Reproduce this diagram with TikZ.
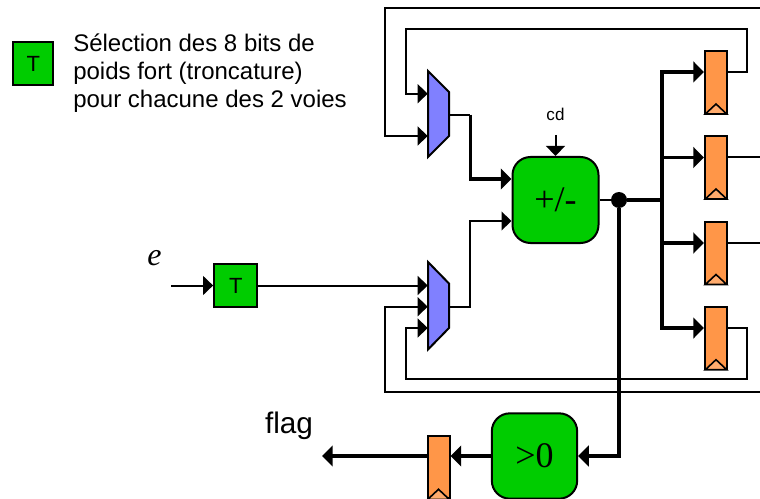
\documentclass[tikz,border=0pt]{standalone}
\usepackage{fontspec}
\setmainfont{Liberation Sans}
\newfontfamily\timesf{Liberation Serif}
\usetikzlibrary{arrows.meta}
\definecolor{gr}{HTML}{00CC00}
\definecolor{mx}{HTML}{8080FF}
\definecolor{og}{HTML}{FF9648}
\tikzset{
  wire/.style={line width=1.5pt,line join=miter,-{Triangle[length=7.5pt,width=14pt]}},
  fatwire/.style={line width=2.6pt,line join=miter,-{Triangle[length=8pt,width=15.5pt]}},
  plain/.style={line width=1.5pt},
  fatplain/.style={line width=2.6pt},
  block/.style={draw,line width=1.5pt,fill=gr,rounded corners=13.5pt,inner sep=0pt,font=\timesf\fontsize{27}{27}\selectfont},
  tbox/.style={draw,line width=1.5pt,fill=gr,inner sep=0pt,font=\fontsize{16.5}{16.5}\selectfont},
  reg/.style={draw,line width=1.5pt,fill=og,inner sep=0pt,minimum width=16.5pt,minimum height=46.5pt},
  ghost/.style={inner sep=0pt,minimum width=15.75pt,minimum height=65pt},
  muxshape/.style={draw,line width=1.5pt,fill=mx,line join=miter},
  clk/.style={draw,line width=1.2pt,fill=og!80!white,line join=miter},
  lbl/.style={inner sep=0pt},
}
\begin{document}
\begin{tikzpicture}[x=0.75pt,y=-0.75pt]
\useasboundingbox (0,0) rectangle (760,499);
% mux bodies
\path[muxshape] (428,71) -- (449,92) -- (449,136) -- (428,157) -- cycle;
\path[muxshape] (428,262) -- (449,283.5) -- (449,328) -- (428,349.5) -- cycle;
\node[ghost] (m1) at (438.5,114) {};
\node[ghost] (m2) at (438.5,305.75) {};
% free ends and corners
\coordinate (topR) at (760,8);
\coordinate (botR) at (760,392);
\coordinate (out2) at (760,157.5);
\coordinate (out3) at (760,243);
\coordinate (eIn) at (171,285.5);
\coordinate (cdIn) at (555.5,135);
\coordinate (flagOut) at (322,456);
% blocks
\node[block,minimum width=64.5pt,minimum height=64.5pt] (alu) at (555.5,200) {+/-};
\node[block,minimum width=64pt,minimum height=64pt] (cmp) at (534.5,456) {>0};
\node[tbox,minimum width=32.5pt,minimum height=32.5pt] (t1) at (235.8,285.5) {T};
\node[tbox,minimum width=30pt,minimum height=32.5pt] (t0) at (33.3,63.5) {T};
\node[reg] (r1) at (716,82) {};
\node[reg] (r2) at (716,167) {};
\node[reg] (r3) at (716,252.5) {};
\node[reg] (r4) at (716,337.7) {};
\node[reg] (r5) at (438.5,467.3) {};
% clock marks
\foreach \r in {r1,r2,r3,r4,r5}
  \path[clk] ([xshift=1pt]\r.south west) -- ([yshift=7.5pt]\r.south) -- ([xshift=-1pt]\r.south east) -- cycle;
% dot
\node[circle,fill=black,minimum size=12pt,inner sep=0pt] (dot) at (619,200) {};
\coordinate (bus) at (662,200);
% feedback loops
\draw[wire] (r1.east |- 0,72) -| (747,29.5) -| (406,93.7) -- (m1.west |- 0,93.7);
\draw[wire] (topR) -| (385,136) -- (m1.west |- 0,136);
\draw[wire] (r4.east |- 0,328) -| (747,379) -| (406,328) -- (m2.west |- 0,328);
\draw[wire] (botR) -| (385,306.7) -- (m2.west |- 0,306.7);
\draw[plain] (r2.east |- out2) -- (out2);
\draw[plain] (r3.east |- out3) -- (out3);
% mux to alu
\draw[plain] (m1.east |- 0,114.7) -- (470.3,114.7);
\draw[fatwire] (470.3,114.7) |- (alu.west |- 0,179);
\draw[wire] (m2.east |- 0,306.7) -| (470.3,221) -- (alu.west |- 0,221);
\draw[wire] (eIn) -- (t1.west);
\draw[wire] (t1.east) -- (m2.west |- t1.east);
\draw[wire] (cdIn) -- (alu.north);
% alu output and bus
\draw[plain] (alu.east) -- (dot);
\draw[fatplain] (dot) -- (bus);
\draw[fatwire] (bus) |- (r1.west |- 0,72);
\draw[fatwire] (bus) |- (r2.west |- 0,157.5);
\draw[fatwire] (bus) |- (r3.west |- 0,243);
\draw[fatwire] (bus) |- (r4.west |- 0,328);
% comparator
\draw[fatwire] (dot) |- (cmp.east);
\draw[fatwire] (cmp.west) -- (r5.east |- cmp.west);
\draw[fatwire] (r5.west |- cmp.west) -- (flagOut);
% labels
\node[lbl,font=\fontsize{12.8}{12.8}\selectfont] (cdl) at (555.5,114.5) {cd};
\node[lbl,font=\fontsize{22.3}{22.3}\selectfont] (flagl) at (289,426) {flag};
\node[lbl,font=\timesf\itshape\fontsize{24}{24}\selectfont] (el) at (154.5,258) {e};
\node[lbl,anchor=west,align=left,font=\fontsize{18}{21}\selectfont] (leg) at (73,73) {Sélection des 8 bits de\\poids fort (troncature)\\pour chacune des 2 voies};
\end{tikzpicture}
\end{document}
